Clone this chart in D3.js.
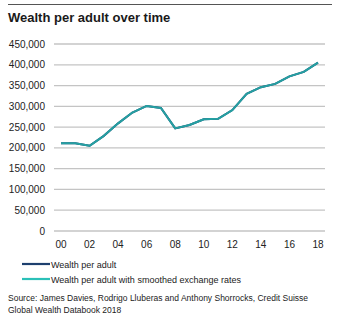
<!DOCTYPE html>
<html><head><meta charset="utf-8">
<script src="https://cdn.jsdelivr.net/npm/d3@7"></script>
<style>body{margin:0;background:#fff;} svg{display:block;font-family:"Liberation Sans",Arial,Helvetica,sans-serif;}</style>
</head><body>
<svg id="c" width="348" height="326"></svg>
<script>
const years = ["00","01","02","03","04","05","06","07","08","09","10","11","12","13","14","15","16","17","18"];
const wealth = [211000,211000,205000,229000,259000,285000,301000,296000,247000,255000,269000,270000,291000,330000,346000,354000,372000,383000,405000];
const wealthSmoothed = [211000,211000,205000,229000,259000,285000,301000,296000,247000,255000,269000,270000,291000,330000,346000,354000,372000,383000,405000];
const yTicks = [0,50000,100000,150000,200000,250000,300000,350000,400000,450000];
const xTickLabels = ["00","02","04","06","08","10","12","14","16","18"];
const seriesNames = ["Wealth per adult","Wealth per adult with smoothed exchange rates"];
const title = "Wealth per adult over time";
const sourceLines = ["Source: James Davies, Rodrigo Lluberas and Anthony Shorrocks, Credit Suisse","Global Wealth Databook 2018"];

const svg = d3.select("#c");
svg.append("line").attr("x1",8).attr("x2",332).attr("y1",4.5).attr("y2",4.5).attr("stroke","#555").attr("stroke-width",1);
svg.append("text").attr("x",8).attr("y",22).attr("font-size",13).attr("font-weight","bold").attr("fill","#1a1a1a").text(title);

const x = d3.scalePoint().domain(years).range([61,318]);
const y = d3.scaleLinear().domain([0,450000]).range([231,44]);

const fmt = d3.format(",");
const g = svg.append("g");
yTicks.forEach(t=>{
  g.append("line").attr("x1",54).attr("x2",325).attr("y1",y(t)).attr("y2",y(t)).attr("stroke","#c4c4c4").attr("stroke-width",1.3);
  g.append("text").attr("x",45).attr("y",y(t)+3.5).attr("text-anchor","end").attr("font-size",10).attr("fill","#222").text(fmt(t));
});
xTickLabels.forEach(t=>{
  g.append("text").attr("x",x(t)).attr("y",248).attr("text-anchor","middle").attr("font-size",10).attr("fill","#222").text(t);
});

const line = d3.line().x((d,i)=>x(years[i])).y(d=>y(d));
svg.append("path").datum(wealth).attr("d",line).attr("fill","none").attr("stroke","#1d3f6e").attr("stroke-width",2);
svg.append("path").datum(wealthSmoothed).attr("d",line).attr("fill","none").attr("stroke","#25a0a2").attr("stroke-width",2).attr("stroke-linejoin","round");

const legColors = ["#1d3f6e","#2bc0b8"];
seriesNames.forEach((n,i)=>{
  const ly = 264 + i*15;
  svg.append("line").attr("x1",22).attr("x2",50).attr("y1",ly).attr("y2",ly).attr("stroke",legColors[i]).attr("stroke-width",2.2);
  svg.append("text").attr("x",51).attr("y",ly+3.5).attr("font-size",9).attr("fill","#222").text(n);
});
sourceLines.forEach((s,i)=>{
  svg.append("text").attr("x",8).attr("y",301+i*12).attr("font-size",8.5).attr("fill","#222").text(s);
});
</script>
</body></html>
